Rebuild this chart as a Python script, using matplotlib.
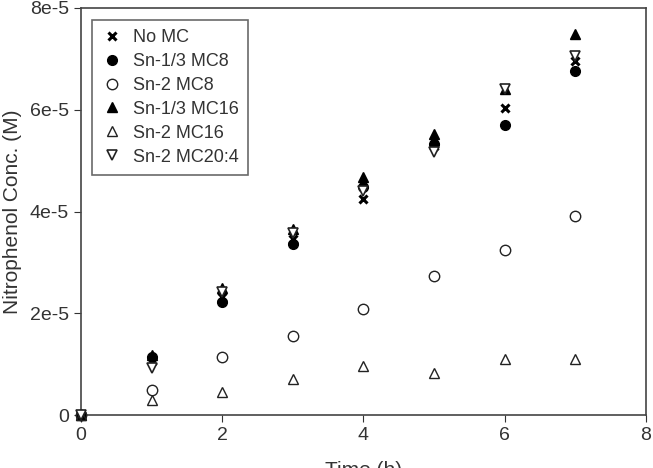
import numpy as np
import matplotlib.pyplot as plt

plt.rcParams['font.family'] = ['Liberation Sans', 'DejaVu Sans']

# time points (h)
time_h = [0, 1, 2, 3, 4, 5, 6, 7]

# nitrophenol concentration (M) per membrane composition
no_mc = [0, 1.07e-5, 2.33e-5, 3.47e-5, 4.24e-5, 5.28e-5, 6.04e-5, 6.95e-5]
sn13_mc8 = [0, 1.14e-5, 2.22e-5, 3.37e-5, 4.48e-5, 5.33e-5, 5.70e-5, 6.76e-5]
sn2_mc8 = [0, 0.50e-5, 1.15e-5, 1.55e-5, 2.08e-5, 2.73e-5, 3.25e-5, 3.92e-5]
sn13_mc16 = [0, 1.19e-5, 2.50e-5, 3.65e-5, 4.67e-5, 5.53e-5, 6.41e-5, 7.49e-5]
sn2_mc16 = [0, 0.29e-5, 0.45e-5, 0.70e-5, 0.96e-5, 0.82e-5, 1.10e-5, 1.10e-5]
sn2_mc204 = [0, 0.92e-5, 2.42e-5, 3.57e-5, 4.40e-5, 5.16e-5, 6.41e-5, 7.05e-5]

labels = ['No MC', 'Sn-1/3 MC8', 'Sn-2 MC8', 'Sn-1/3 MC16', 'Sn-2 MC16', 'Sn-2 MC20:4']

fig = plt.figure(figsize=(6.53, 4.68), dpi=100)
ax = fig.add_axes([0.124, 0.113, 0.865, 0.87])

ec = '#222222'
kw = dict(linestyle='none', clip_on=False, zorder=3)
ax.plot(time_h, no_mc, 'x', color='black', ms=6, mew=2.2, label=labels[0], **kw)
ax.plot(time_h, sn13_mc8, 'o', color='black', ms=7, label=labels[1], **kw)
ax.plot(time_h, sn2_mc8, 'o', mfc='none', mec=ec, ms=7.5, mew=1.0, label=labels[2], **kw)
ax.plot(time_h, sn13_mc16, '^', color='black', ms=7, label=labels[3], **kw)
ax.plot(time_h, sn2_mc16, '^', mfc='none', mec=ec, ms=7, mew=1.0, label=labels[4], **kw)
ax.plot(time_h, sn2_mc204, 'v', mfc='white', mec=ec, ms=7, mew=1.2, label=labels[5], **kw)

ax.set_xlim(0, 8)
ax.set_ylim(0, 8e-5)
ax.set_xticks([0, 2, 4, 6, 8])
ax.set_yticks([0, 2e-5, 4e-5, 6e-5, 8e-5])
ax.set_yticklabels(['0', '2e-5', '4e-5', '6e-5', '8e-5'])
ax.tick_params(labelsize=14, length=5, color='#333333', labelcolor='#333333')
for s in ax.spines.values():
    s.set_color('#444444')
    s.set_linewidth(1.2)

ax.set_xlabel('Time (h)', fontsize=15, color='#333333', labelpad=12)
ax.set_ylabel('Nitrophenol Conc. (M)', fontsize=15, color='#333333', labelpad=6)

leg = ax.legend(loc='upper left', bbox_to_anchor=(0.019, 0.97), borderaxespad=0,
                fontsize=13, frameon=True, fancybox=False, edgecolor='#444444',
                handletextpad=0.6, handlelength=1.2, labelspacing=0.38,
                borderpad=0.5)
leg.get_frame().set_linewidth(1.2)
for t in leg.get_texts():
    t.set_color('#333333')

fig.savefig('out.png', dpi=100)
